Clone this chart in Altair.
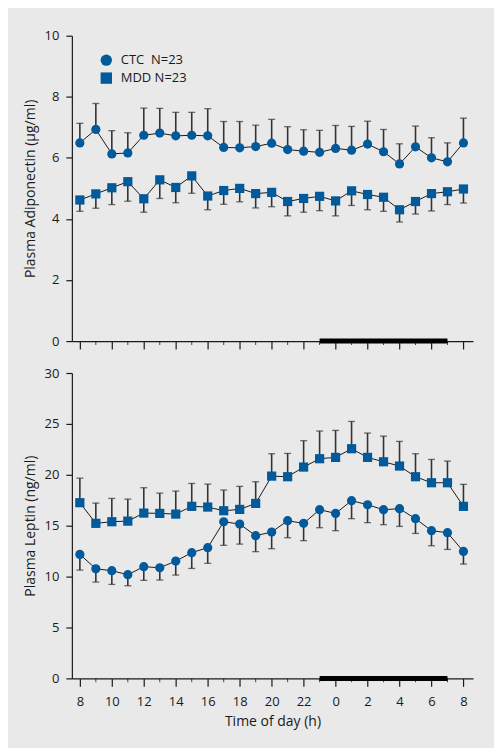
import altair as alt
import pandas as pd

# ---------------- data ----------------
hours = list(range(25))                      # 0 = 08:00 ... 24 = 08:00 next day
major_ticks = list(range(0, 25, 2))
minor_ticks = list(range(1, 24, 2))
night = [15, 23]                             # 23:00 -> 07:00 (dark period)
groups = ["CTC\u00a0\u00a0N=23", "MDD N=23"]

ctc_adipo = [6.49, 6.93, 6.13, 6.16, 6.74, 6.81, 6.72, 6.74, 6.72, 6.34, 6.33, 6.37, 6.48,
             6.27, 6.22, 6.18, 6.31, 6.25, 6.45, 6.20, 5.80, 6.36, 6.00, 5.87, 6.49]
ctc_adipo_sem = [0.64, 0.85, 0.76, 0.66, 0.89, 0.81, 0.77, 0.75, 0.89, 0.85, 0.86, 0.70, 0.78,
                 0.75, 0.70, 0.72, 0.75, 0.78, 0.75, 0.73, 0.66, 0.68, 0.66, 0.62, 0.81]
mdd_adipo = [4.62, 4.82, 5.02, 5.22, 4.66, 5.28, 5.03, 5.41, 4.75, 4.93, 5.00, 4.83, 4.87,
             4.57, 4.67, 4.74, 4.59, 4.92, 4.80, 4.71, 4.30, 4.57, 4.83, 4.89, 4.98]
mdd_adipo_sem = [0.37, 0.47, 0.55, 0.64, 0.44, 0.61, 0.50, 0.57, 0.45, 0.45, 0.44, 0.47, 0.47,
                 0.47, 0.45, 0.47, 0.49, 0.48, 0.50, 0.46, 0.40, 0.41, 0.57, 0.42, 0.46]

ctc_leptin = [12.18, 10.77, 10.58, 10.19, 10.97, 10.87, 11.52, 12.35, 12.84, 15.39, 15.16, 14.02, 14.37,
              15.49, 15.23, 16.57, 16.21, 17.46, 17.06, 16.57, 16.67, 15.69, 14.51, 14.31, 12.47]
ctc_leptin_sem = [1.54, 1.31, 1.35, 1.09, 1.34, 1.21, 1.37, 1.55, 1.54, 2.32, 1.97, 1.57, 1.63,
                  1.67, 1.70, 1.77, 1.70, 1.77, 1.76, 1.47, 1.74, 1.45, 1.48, 1.64, 1.24]
mdd_leptin = [17.26, 15.23, 15.39, 15.45, 16.24, 16.21, 16.14, 16.90, 16.83, 16.47, 16.60, 17.19, 19.87,
              19.81, 20.76, 21.58, 21.71, 22.56, 21.71, 21.28, 20.86, 19.81, 19.22, 19.22, 16.90]
mdd_leptin_sem = [2.41, 1.99, 2.29, 2.16, 2.49, 1.99, 2.26, 2.25, 2.26, 2.03, 2.26, 2.13, 2.20,
                  2.29, 2.59, 2.72, 2.65, 2.68, 2.39, 2.52, 2.42, 2.26, 2.29, 2.13, 2.16]

# ---------------- style ----------------
BLUE = "#005a9c"
BG = "#e9e9e9"
FONT = "Open Sans"


def frame(ctc, ctc_sem, ctc_dir, mdd, mdd_sem, mdd_dir):
    rows = []
    for h, m, s in zip(hours, ctc, ctc_sem):
        rows.append({"hour": h, "mean": m, "end": m + ctc_dir * s, "group": groups[0]})
    for h, m, s in zip(hours, mdd, mdd_sem):
        rows.append({"hour": h, "mean": m, "end": m + mdd_dir * s, "group": groups[1]})
    return pd.DataFrame(rows)


def panel(df, ymax, ystep, ytitle, show_x, show_legend, height):
    if show_x:
        xaxis = alt.Axis(values=major_ticks, labelExpr="'' + ((datum.value + 8) % 24)",
                         title="Time of day (h)", tickSize=8, labelPadding=9,
                         titlePadding=6, grid=False)
    else:
        xaxis = alt.Axis(values=major_ticks, labels=False, title=None, tickSize=8, grid=False)
    xscale = alt.Scale(domain=[-0.5, 24.6], nice=False, zero=False)
    yscale = alt.Scale(domain=[0, ymax], nice=False)
    yaxis = alt.Axis(values=list(range(0, ymax + 1, ystep)), title=ytitle, tickSize=6,
                     labelPadding=7, titlePadding=7, grid=False)

    base = alt.Chart(df).encode(x=alt.X("hour:Q", scale=xscale, axis=xaxis))

    err = base.mark_rule(color="#333333", strokeWidth=1.6).encode(
        y=alt.Y("mean:Q", scale=yscale, axis=yaxis), y2="end:Q")
    caps = base.mark_tick(color="#333333", orient="horizontal", size=7, thickness=1.3).encode(
        y=alt.Y("end:Q", scale=yscale, axis=yaxis))
    line = base.mark_line(color="#1a1a1a", strokeWidth=1).encode(
        y=alt.Y("mean:Q", scale=yscale, axis=yaxis), detail="group:N")
    if show_legend:
        legend = alt.Legend(title=None, orient="none", legendX=28, legendY=18, padding=0,
                            labelFontSize=13, labelFont=FONT, labelColor="#1a1a1a",
                            symbolSize=130, symbolFillColor=BLUE, symbolStrokeWidth=0,
                            symbolOpacity=1, rowPadding=4, labelOffset=8)
    else:
        legend = None
    shape = alt.Shape("group:N", scale=alt.Scale(domain=groups, range=["circle", "square"]),
                      legend=legend)
    pts = base.mark_point(filled=True, color=BLUE, size=85, opacity=1).encode(
        y=alt.Y("mean:Q", scale=yscale, axis=yaxis), shape=shape)

    night_df = pd.DataFrame({"start": [night[0]], "stop": [night[1]], "base": [0]})
    bar = alt.Chart(night_df).mark_rule(color="black", strokeWidth=5).encode(
        x=alt.X("start:Q", scale=xscale, axis=xaxis), x2="stop:Q",
        y=alt.Y("base:Q", scale=yscale, axis=yaxis))

    minor_df = pd.DataFrame({"hour": minor_ticks, "base": [0] * len(minor_ticks)})
    minor = alt.Chart(minor_df).mark_tick(color="black", orient="vertical", size=4,
                                          thickness=1, yOffset=2).encode(
        x=alt.X("hour:Q", scale=xscale, axis=xaxis),
        y=alt.Y("base:Q", scale=yscale, axis=yaxis))

    return alt.layer(err, caps, line, pts, bar, minor).properties(width=402, height=height)


top = panel(frame(ctc_adipo, ctc_adipo_sem, 1, mdd_adipo, mdd_adipo_sem, -1),
            10, 2, "Plasma Adiponectin (\u00b5g/ml)", False, True, 306)
bottom = panel(frame(ctc_leptin, ctc_leptin_sem, -1, mdd_leptin, mdd_leptin_sem, 1),
               30, 5, "Plasma Leptin (ng/ml)", True, False, 306)

chart = alt.vconcat(top, bottom, spacing=17).resolve_scale(
    shape="independent").resolve_legend(shape="independent").properties(
    background=BG, padding={"left": 15, "top": 21, "right": 21, "bottom": 19}
).configure_view(stroke=None).configure_axis(
    domainColor="#1a1a1a", tickColor="#1a1a1a", domainWidth=1.2, tickWidth=1.2,
    labelFont=FONT, titleFont=FONT, labelFontSize=13, titleFontSize=14,
    labelColor="#1a1a1a", titleColor="#1a1a1a", titleFontWeight="normal"
).configure_legend(labelFont=FONT)

chart.save("out.html", embed_options={"renderer": "svg", "actions": False})
